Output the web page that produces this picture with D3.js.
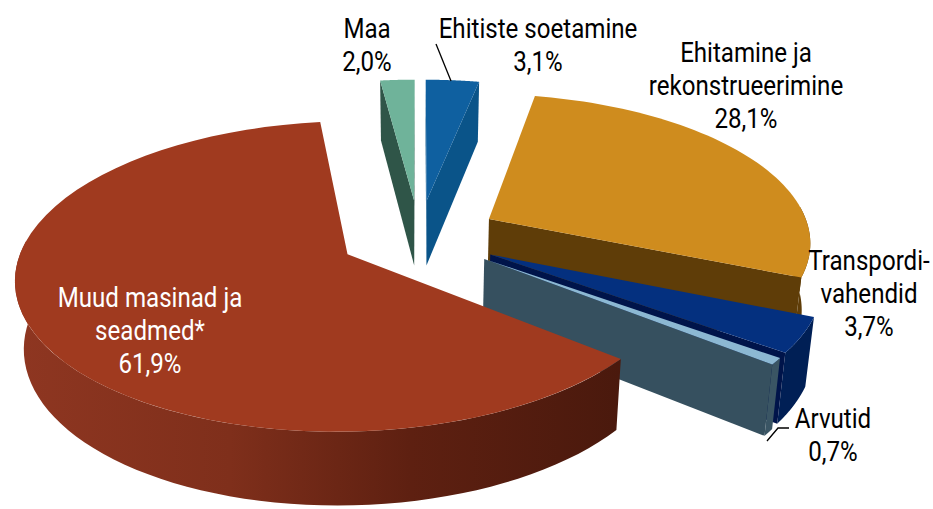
<!DOCTYPE html>
<html><head><meta charset="utf-8">
<script src="https://cdnjs.cloudflare.com/ajax/libs/d3/7.8.5/d3.min.js"></script>
<style>html,body{margin:0;padding:0;background:#fff}svg{display:block}text{font-family:Roboto,sans-serif;font-size:27px}</style>
</head><body><svg id="c" width="933" height="509"></svg>
<script>
const categories=["Ehitiste soetamine","Ehitamine ja rekonstrueerimine","Transpordivahendid","Arvutid","Muud masinad ja seadmed*","Maa"];
const values=[3.1,28.1,3.7,0.7,61.9,2.0];
const topColors=["#0f60a0","#cf8c1e","#04307f","#8cb8d3","#a03a1f","#6fb39a"];
const cutColors=["#0a5489","#5f3d08","#00144a","#36505f","#5c1f10","#2f5548"];
const wallColors=["#0a5489","#5f3d08","#001f55","#3a5564",null,"#2f5548"];
const labelLines=[["Ehitiste soetamine","3,1%"],["Ehitamine ja","rekonstrueerimine","28,1%"],["Transpordi-","vahendid","3,7%"],["Arvutid","0,7%"],["Muud masinad ja","seadmed*","61,9%"],["Maa","2,0%"]];
const labelColors=["#000","#000","#000","#000","#fff","#000"];

const W=933,H=509,cx=419,cy=236,Rx=322,Ry=147,depth=66.3,persp=0.14,explode=0.25;
const svg=d3.select("#c");
const defs=svg.append("defs");
const g=defs.append("linearGradient").attr("id","muudWall").attr("gradientUnits","userSpaceOnUse")
  .attr("x1",20).attr("x2",620).attr("y1",0).attr("y2",0);
[[0,"#8e3621"],[0.35,"#7f2f1b"],[0.65,"#5e2011"],[1,"#4a190d"]].forEach(s=>g.append("stop").attr("offset",s[0]).attr("stop-color",s[1]));

function project(u,v,z){
  const s=1/(1-persp*v);
  return [cx+Rx*u*s*(1-0.022*z), cy+Ry*v*s+depth*z*Math.pow(s,0.63)];
}
const arcs=d3.pie().sort(null).value(d=>d).startAngle(0).endAngle(2*Math.PI)(values);
const line=d3.line();
const frontA=85*Math.PI/180, frontB=275*Math.PI/180;

arcs.forEach((d,i)=>{
  const mid=(d.startAngle+d.endAngle)/2;
  const ox=explode*Math.sin(mid), oy=-explode*Math.cos(mid);
  const P=(a,r,z)=>project(ox+r*Math.sin(a),oy-r*Math.cos(a),z);
  const rim=(a,b,z)=>d3.range(0,61).map(k=>P(a+(b-a)*k/60,1,z));
  const area=pts=>d3.polygonArea(pts);
  const layer=svg.append("g");
  const cut=a=>[P(a,0,0),P(a,1,0),P(a,1,1),P(a,0,1)];
  const c0=cut(d.startAngle), c1=cut(d.endAngle);
  if(area(c0)>0) layer.append("path").attr("d",line(c0)+"Z").attr("fill",cutColors[i]);
  const a=Math.max(d.startAngle,frontA), b=Math.min(d.endAngle,frontB);
  if(b>a){
    const pts=rim(a,b,0).concat(rim(a,b,1).reverse());
    layer.append("path").attr("d",line(pts)+"Z").attr("fill",wallColors[i]||"url(#muudWall)");
  }
  if(area(c1)<0) layer.append("path").attr("d",line(c1)+"Z").attr("fill",cutColors[i]);
  const topFace=[P(0,0,0)].concat(rim(d.startAngle,d.endAngle,0));
  layer.append("path").attr("d",line(topFace)+"Z").attr("fill",topColors[i]);
});

svg.append("path").attr("d",line([[436,44],[451,81]])).attr("fill","none").attr("stroke","#000").attr("stroke-width",1.3);
svg.append("path").attr("d",line([[767,441],[778,428],[789,428]])).attr("fill","none").attr("stroke","#000").attr("stroke-width",1.3);

const labelPos=[[538,38],[746,62],[869,270],[833,428],[150,307],[367,38]];
const lh=33.2, sx=0.893;
labelLines.forEach((lines,i)=>{
  lines.forEach((t,k)=>{
    svg.append("text").text(t).attr("text-anchor","middle").attr("fill",labelColors[i])
      .attr("transform",`translate(${labelPos[i][0]},${labelPos[i][1]+k*lh}) scale(${sx},1)`);
  });
});
</script></body></html>
